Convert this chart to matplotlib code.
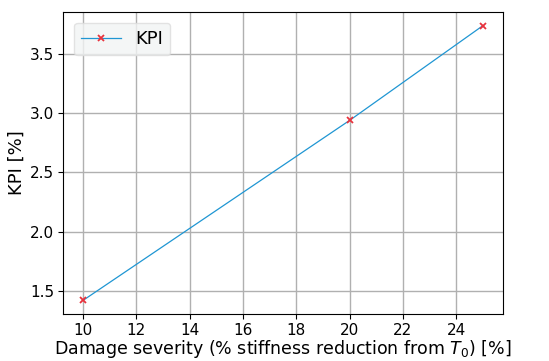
import matplotlib
matplotlib.use('Agg')
import matplotlib.pyplot as plt

# damage severity levels and the resulting KPI values
severity = [10, 20, 25]
kpi = [1.42, 2.94, 3.74]

fig = plt.figure(figsize=(5.49, 3.61), dpi=100)
ax = fig.add_axes([0.115, 0.13, 0.801, 0.837])

ax.plot(severity, kpi, '-', color='#1f96d3', lw=0.9, marker='x',
        markeredgecolor='#e8333d', markersize=5, markeredgewidth=1.3, label='KPI')

ax.set_xticks([10, 12, 14, 16, 18, 20, 22, 24])
ax.set_yticks([1.5, 2.0, 2.5, 3.0, 3.5])
ax.tick_params(labelsize=11, pad=3)
ax.grid(True, color='#b0b0b0', lw=1)
ax.set_axisbelow(True)

ax.set_xlabel(r'Damage severity (% stiffness reduction from $T_0$) [%]', fontsize=12.5, labelpad=0)
ax.set_ylabel('KPI [%]', fontsize=13, labelpad=3)

ax.legend(loc='upper left', fontsize=13, facecolor='#f2f4f4', edgecolor='#dddddd',
          handlelength=2.2, borderaxespad=0.6)

fig.savefig('out.png', dpi=100)
